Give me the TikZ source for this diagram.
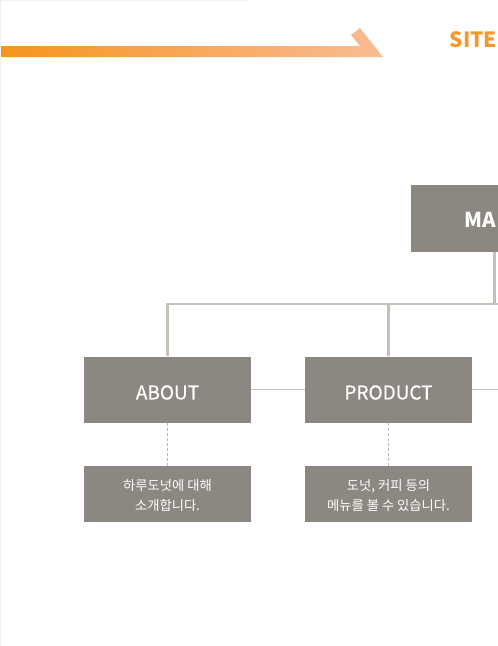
\documentclass[tikz,border=0pt]{standalone}
\usepackage{fontspec}
\setmainfont{Noto Sans CJK KR}
\newfontfamily\kr{Noto Sans CJK KR}
\newfontfamily\krfb{Noto Sans CJK KR}[FakeBold=0.6]
\usetikzlibrary{positioning}
\definecolor{boxgray}{HTML}{8C8780}
\definecolor{linegray}{HTML}{C5C0B8}
\definecolor{dashgray}{HTML}{BDB8B0}
\definecolor{orgA}{HTML}{F7941E}
\definecolor{orgB}{HTML}{F9BC93}
\definecolor{siteorg}{HTML}{F39A2E}
\definecolor{edgegray}{HTML}{F0F0F0}
\tikzset{
  menubox/.style={fill=boxgray, minimum width=167pt, minimum height=66pt, inner sep=0pt, text=white},
  menutext/.style={inner sep=0pt, text=white, font=\krfb\fontsize{19}{22}\selectfont},
  descbox/.style={fill=boxgray, minimum width=167pt, minimum height=56pt, inner sep=0pt},
  desctext/.style={inner sep=0pt, text=white, align=center, font=\kr\fontsize{13.3}{20}\selectfont},
  bus/.style={draw=linegray, line width=2.5pt},
  thinlink/.style={draw=linegray, line width=0.8pt},
  dashlink/.style={draw=dashgray, line width=0.8pt, dash pattern=on 3pt off 2pt}
}
\begin{document}
\begin{tikzpicture}[x=1pt,y=-1pt]
\useasboundingbox (0,0) rectangle (498,646);
\clip (0,0) rectangle (498,646);
% faint page edges
\draw[edgegray, line width=1pt] (0.5,646) -- (0.5,0.5) -- (248,0.5);
% orange arrow bar
\shade[left color=orgA, right color=orgB] (1,46) -- (360,46) -- (351,35) -- (360,28) -- (383,57) -- (1,57) -- cycle;
\node[anchor=base west, inner sep=0pt, text=siteorg, font=\kr\bfseries\fontsize{21}{24}\selectfont] (site) at (449.5,47.5) {SITE};
% main box
\node[menubox, minimum height=67pt] (main) at (494.5,218.5) {};
\node[anchor=base west, inner sep=0pt, text=white, font=\kr\bfseries\fontsize{20.5}{24}\selectfont] (maintext) at (464,227.5) {MA};
% menu boxes
\node[menubox] (about) at (167.5,389.5) {};
\node[menubox] (product) at (388.5,389.5) {};
\node[menutext] (abouttext) at (167.5,392.5) {ABOUT};
\node[menutext] (producttext) at (388.5,392.5) {PRODUCT};
\node[descbox] (aboutd) at (167.5,494) {};
\node[descbox] (productd) at (388.5,494) {};
\node[desctext] (aboutdtext) at (167.5,495.5) {하루도넛에 대해\\소개합니다.};
\node[desctext] (productdtext) at (388.5,495.5) {도넛, 커피 등의\\메뉴를 볼 수 있습니다.};
\coordinate (busR) at (500,304);
\coordinate (rowR) at (500,389.5);
% connectors
\draw[bus] (main.south) -- (main.south |- busR);
\draw[bus] (about.north) |- (busR);
\draw[bus] (product.north) -- (product.north |- busR);
\draw[thinlink] (about.east) -- (product.west);
\draw[thinlink] (product.east) -- (rowR);
\draw[dashlink] (about.south) -- (aboutd.north);
\draw[dashlink] (product.south) -- (productd.north);
\end{tikzpicture}
\end{document}
